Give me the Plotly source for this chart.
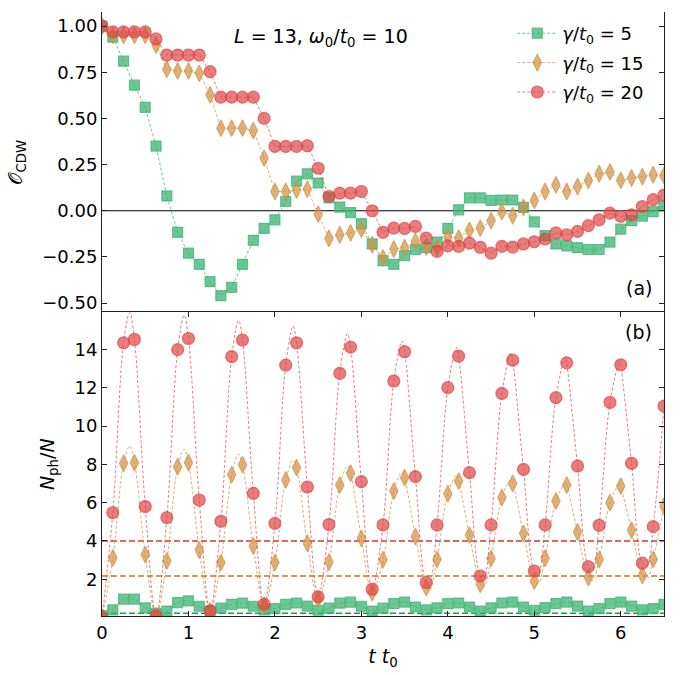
import plotly.graph_objects as go

# ---------------- data ----------------
t = [0.0, 0.125, 0.25, 0.375, 0.5, 0.625, 0.75, 0.875, 1.0, 1.125, 1.25, 1.375, 1.5,
     1.625, 1.75, 1.875, 2.0, 2.125, 2.25, 2.375, 2.5, 2.625, 2.75, 2.875, 3.0, 3.125,
     3.25, 3.375, 3.5, 3.625, 3.75, 3.875, 4.0, 4.125, 4.25, 4.375, 4.5, 4.625, 4.75,
     4.875, 5.0, 5.125, 5.25, 5.375, 5.5, 5.625, 5.75, 5.875, 6.0, 6.125, 6.25, 6.375, 6.5]

# panel (a): O_CDW
cdw_g5 = [1.0, 0.94, 0.81, 0.68, 0.56, 0.35, 0.08, -0.117, -0.23, -0.29, -0.384, -0.46, -0.415,
          -0.29, -0.16, -0.096, -0.049, 0.05, 0.16, 0.20, 0.15, 0.07, 0.02, -0.01, -0.07, -0.18,
          -0.27, -0.29, -0.243, -0.21, -0.20, -0.17, -0.096, 0.005, 0.07, 0.07, 0.056, 0.058, 0.058,
          0.018, -0.06, -0.135, -0.18, -0.19, -0.20, -0.21, -0.21, -0.17, -0.10, -0.054, -0.03, -0.005, 0.027]
cdw_g15 = [1.0, 0.95, 0.95, 0.95, 0.95, 0.897, 0.766, 0.757, 0.757, 0.744, 0.627, 0.447, 0.447,
           0.447, 0.434, 0.285, 0.104, 0.104, 0.112, 0.117, -0.018, -0.15, -0.13, -0.12, -0.10, -0.184,
           -0.256, -0.207, -0.20, -0.166, -0.197, -0.20, -0.142, -0.148, -0.106, -0.094, -0.054, -0.005, -0.027,
           0.018, 0.056, 0.104, 0.14, 0.104, 0.131, 0.164, 0.2, 0.21, 0.164, 0.177, 0.185, 0.195, 0.19]
cdw_g20 = [1.0, 0.968, 0.968, 0.968, 0.968, 0.93, 0.843, 0.843, 0.843, 0.843, 0.753, 0.615, 0.615,
           0.615, 0.615, 0.50, 0.348, 0.348, 0.348, 0.352, 0.23, 0.077, 0.095, 0.095, 0.104, 0.0,
           -0.117, -0.094, -0.096, -0.085, -0.148, -0.22, -0.19, -0.193, -0.175, -0.198, -0.23, -0.193, -0.197,
           -0.18, -0.168, -0.153, -0.12, -0.13, -0.112, -0.081, -0.049, -0.013, -0.03, -0.022, 0.023, 0.06, 0.085]

# panel (b): N_ph / N (sampled markers)
nph_g5 = [0.1, 0.4, 0.96, 0.96, 0.5, 0.22, 0.34, 0.78, 0.87, 0.59, 0.34, 0.49, 0.69,
          0.75, 0.59, 0.4, 0.47, 0.69, 0.76, 0.6, 0.38, 0.49, 0.75, 0.8, 0.59, 0.34,
          0.49, 0.73, 0.81, 0.55, 0.4, 0.5, 0.73, 0.76, 0.55, 0.34, 0.5, 0.76, 0.81,
          0.55, 0.38, 0.52, 0.73, 0.81, 0.6, 0.34, 0.47, 0.73, 0.81, 0.6, 0.4, 0.47, 0.69]
nph_g15 = [0.0, 3.11, 8.06, 8.09, 3.29, 0.1, 2.96, 7.88, 8.09, 3.53, 0.35, 2.87, 7.47,
           7.99, 3.74, 0.65, 2.87, 7.19, 7.83, 3.88, 0.95, 2.9, 6.92, 7.54, 4.14, 1.3,
           3.02, 6.61, 7.31, 4.23, 1.57, 3.04, 6.47, 7.13, 4.31, 1.74, 3.08, 6.27, 7.01,
           4.4, 1.91, 3.1, 6.09, 6.92, 4.47, 2.09, 3.04, 6.0, 6.87, 4.57, 2.21, 3.04, 5.83]
nph_g20 = [0.0, 5.48, 14.36, 14.53, 5.8, 0.1, 5.22, 14.0, 14.58, 6.14, 0.35, 5.03, 13.63,
           14.5, 6.49, 0.69, 4.92, 13.19, 14.36, 6.82, 1.08, 4.86, 12.76, 14.13, 7.1, 1.48,
           4.84, 12.36, 13.89, 7.36, 1.83, 4.84, 12.01, 13.66, 7.57, 2.17, 4.84, 11.71, 13.45,
           7.74, 2.43, 4.84, 11.49, 13.31, 7.92, 2.66, 4.82, 11.24, 13.21, 8.06, 2.84, 4.75, 11.05]

# extrema of the fine (dashed) curves in panel (b)
peak_t = [0.32, 0.95, 1.58, 2.21, 2.84, 3.47, 4.10, 4.73, 5.36, 5.99]
peak_g20 = [15.93, 15.79, 15.52, 15.23, 14.83, 14.44, 14.10, 13.84, 13.61, 13.44]
peak_g15 = [8.96, 8.79, 8.53, 8.21, 7.92, 7.62, 7.45, 7.19, 7.05, 7.01]
trough_t = [3.785, 4.415, 5.045, 5.675, 6.305]
trough_g20 = [1.75, 2.05, 2.30, 2.50, 2.70]
trough_g15 = [1.39, 1.57, 1.76, 1.93, 2.02]

# time-averaged photon numbers (horizontal dashed lines)
avg_g5, avg_g15, avg_g20 = 0.22, 2.17, 4.0

labels = ["<i>γ</i>/<i>t</i><sub>0</sub> = 5",
          "<i>γ</i>/<i>t</i><sub>0</sub> = 15",
          "<i>γ</i>/<i>t</i><sub>0</sub> = 20"]
x_ticks = [0, 1, 2, 3, 4, 5, 6]
ya_ticks = [-0.50, -0.25, 0.00, 0.25, 0.50, 0.75, 1.00]
ya_text = ["−0.50", "−0.25", "0.00", "0.25", "0.50", "0.75", "1.00"]
yb_ticks = [2, 4, 6, 8, 10, 12, 14]

# ---------------- styles ----------------
FONT = "DejaVu Sans"
c_g = "rgba(60,179,113,0.75)"
c_o = "rgba(210,145,70,0.70)"
c_r = "rgba(222,70,70,0.70)"
l_g = "rgba(60,179,113,0.75)"
l_o = "rgba(210,145,70,0.75)"
l_r = "rgba(222,70,70,0.70)"


def merged(tm, vm, tp, vp, tt, vt):
    pts = list(zip(tm, vm)) + list(zip(tp, vp)) + list(zip(tt, vt))
    pts.sort()
    return [p[0] for p in pts], [p[1] for p in pts]


fig = go.Figure()

series = [
    (cdw_g5, nph_g5, c_g, l_g, "square", 10, labels[0]),
    (cdw_g15, nph_g15, c_o, l_o, "diamond-tall", 12, labels[1]),
    (cdw_g20, nph_g20, c_r, l_r, "circle", 12, labels[2]),
]

# horizontal reference lines
fig.add_trace(go.Scatter(x=[0, 6.5], y=[0, 0], mode="lines", xaxis="x", yaxis="y2",
                         line=dict(color="black", width=1.2), showlegend=False, hoverinfo="skip"))
for val, col in [(avg_g20, "#d9352a"), (avg_g15, "#c97a1e"), (avg_g5, "#1f9a4a")]:
    fig.add_trace(go.Scatter(x=[0, 6.5], y=[val, val], mode="lines", xaxis="x", yaxis="y",
                             line=dict(color=col, width=1.6, dash="6px,3px"),
                             showlegend=False, hoverinfo="skip"))

for i, (cdw, nph, mc, lc, sym, ms, lab) in enumerate(series):
    # panel (a)
    fig.add_trace(go.Scatter(
        x=t, y=cdw, mode="lines+markers", xaxis="x", yaxis="y2", name=lab,
        legendgroup=str(i),
        line=dict(color=lc, width=1, dash="3px,2px"),
        marker=dict(symbol=sym, size=ms, color=mc, line=dict(color=mc, width=1.2))))
    # panel (b) fine curves
    if i == 0:
        cx, cy = t, nph
    elif i == 1:
        cx, cy = merged(t, nph, peak_t, peak_g15, trough_t, trough_g15)
    else:
        cx, cy = merged(t, nph, peak_t, peak_g20, trough_t, trough_g20)
    fig.add_trace(go.Scatter(
        x=cx, y=cy, mode="lines", xaxis="x", yaxis="y", showlegend=False,
        line=dict(color=lc, width=1, dash="3px,2px", shape="spline", smoothing=1.0)))
    fig.add_trace(go.Scatter(
        x=t, y=nph, mode="markers", xaxis="x", yaxis="y", showlegend=False,
        marker=dict(symbol=sym, size=ms, color=mc, line=dict(color=mc, width=1.2))))

axis_common = dict(showline=True, linecolor="#222", linewidth=1, mirror="ticks",
                   ticks="inside", ticklen=5, tickwidth=1, tickcolor="#222",
                   showgrid=False, zeroline=False,
                   tickfont=dict(family=FONT, size=18, color="black"))

split = 0.5025
fig.update_layout(
    width=684, height=675,
    margin=dict(l=102, r=20, t=12, b=59),
    paper_bgcolor="white", plot_bgcolor="white",
    font=dict(family=FONT, size=18, color="black"),
    xaxis=dict(domain=[0, 1], range=[0, 6.5], anchor="y", tickvals=x_ticks,
               title=dict(text="<i>t t</i><sub>0</sub>", font=dict(size=19), standoff=8),
               **axis_common),
    xaxis2=dict(domain=[0, 1], range=[0, 6.5], anchor="y2", matches="x", tickvals=x_ticks,
                showticklabels=False, **axis_common),
    yaxis=dict(domain=[0, split], range=[0.08, 15.94], anchor="x", tickvals=yb_ticks,
               title=dict(text="<i>N</i><sub>ph</sub>/<i>N</i>", font=dict(size=19), standoff=14),
               **axis_common),
    yaxis2=dict(domain=[split, 1], range=[-0.551, 1.076], anchor="x2", tickvals=ya_ticks,
                ticktext=ya_text,
                title=dict(text="𝒪<sub>CDW</sub>", font=dict(size=19), standoff=14),
                **axis_common),
    legend=dict(x=0.73, y=0.995, xanchor="left", yanchor="top", bgcolor="rgba(0,0,0,0)",
                font=dict(family=FONT, size=18), tracegroupgap=3, traceorder="grouped",
                itemwidth=40),
    annotations=[
        dict(text="<i>L</i> = 13, <i>ω</i><sub>0</sub>/<i>t</i><sub>0</sub> = 10",
             xref="paper", yref="paper", x=(232 - 102) / 562, y=(617 - 38) / 605,
             xanchor="left", yanchor="middle", showarrow=False, font=dict(size=19)),
        dict(text="(a)", xref="paper", yref="paper", x=(654 - 102) / 562, y=(617 - 288) / 605,
             xanchor="right", yanchor="middle", showarrow=False, font=dict(size=19)),
        dict(text="(b)", xref="paper", yref="paper", x=(654 - 102) / 562, y=(617 - 333) / 605,
             xanchor="right", yanchor="middle", showarrow=False, font=dict(size=19)),
    ],
)

fig.write_html("out.html")
